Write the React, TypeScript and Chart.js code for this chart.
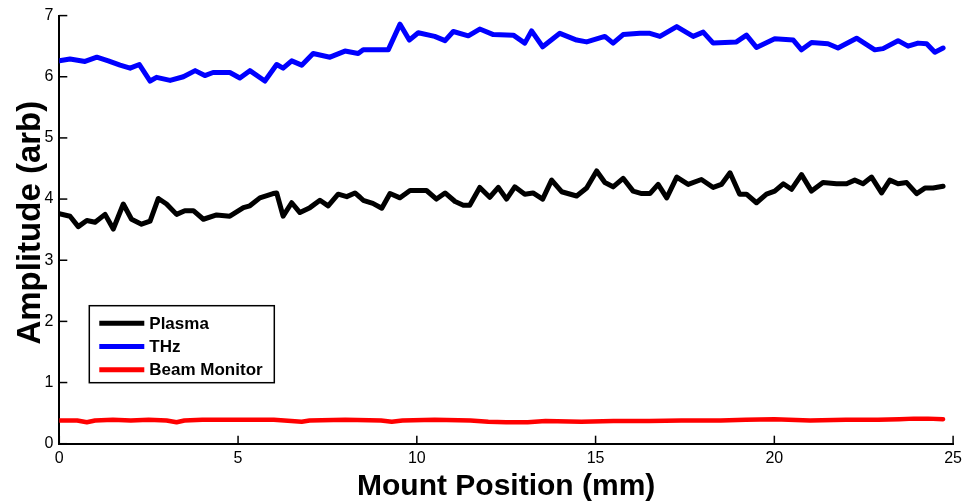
import React, { useEffect, useRef } from "react";
import { Chart, registerables } from "chart.js";

Chart.register(...registerables);

const plasmaX = [0, 0.3, 0.53, 0.77, 1.0, 1.28, 1.51, 1.79, 2.02, 2.3, 2.54, 2.77, 3.0, 3.28, 3.51, 3.75, 4.03, 4.4, 4.77, 5.15, 5.33, 5.61, 5.98, 6.08, 6.26, 6.5, 6.73, 7.01, 7.29, 7.52, 7.8, 8.04, 8.27, 8.41, 8.5, 8.77, 9.02, 9.25, 9.53, 9.81, 10.27, 10.55, 10.79, 11.07, 11.3, 11.48, 11.76, 12.04, 12.28, 12.51, 12.74, 13.02, 13.25, 13.52, 13.77, 14.05, 14.47, 14.75, 15.03, 15.26, 15.49, 15.77, 16.05, 16.29, 16.52, 16.75, 16.99, 17.27, 17.59, 17.96, 18.29, 18.52, 18.76, 19.03, 19.22, 19.5, 19.78, 20.01, 20.25, 20.48, 20.76, 21.04, 21.36, 21.74, 22.02, 22.25, 22.48, 22.72, 23.0, 23.23, 23.46, 23.7, 23.98, 24.21, 24.44, 24.72];
const plasmaY = [3.76, 3.72, 3.55, 3.65, 3.62, 3.75, 3.51, 3.92, 3.67, 3.59, 3.64, 4.01, 3.92, 3.75, 3.81, 3.81, 3.67, 3.74, 3.72, 3.86, 3.89, 4.02, 4.09, 4.1, 3.72, 3.94, 3.78, 3.86, 3.98, 3.89, 4.08, 4.04, 4.1, 4.03, 3.98, 3.93, 3.85, 4.09, 4.02, 4.14, 4.14, 4.0, 4.1, 3.96, 3.9, 3.9, 4.19, 4.03, 4.19, 4.0, 4.2, 4.08, 4.1, 4.0, 4.31, 4.12, 4.05, 4.18, 4.46, 4.27, 4.2, 4.34, 4.13, 4.09, 4.09, 4.24, 4.02, 4.36, 4.24, 4.32, 4.19, 4.24, 4.43, 4.08, 4.08, 3.94, 4.08, 4.13, 4.25, 4.16, 4.4, 4.13, 4.27, 4.25, 4.25, 4.31, 4.25, 4.36, 4.1, 4.31, 4.25, 4.27, 4.09, 4.18, 4.18, 4.21];

const thzX = [0, 0.3, 0.72, 1.05, 1.37, 1.7, 1.98, 2.24, 2.54, 2.72, 3.1, 3.47, 3.8, 4.07, 4.3, 4.77, 5.05, 5.33, 5.75, 6.08, 6.26, 6.5, 6.78, 7.1, 7.57, 7.99, 8.36, 8.5, 9.2, 9.53, 9.79, 10.04, 10.5, 10.79, 11.02, 11.44, 11.76, 12.14, 12.7, 13.02, 13.21, 13.52, 14.0, 14.47, 14.75, 15.26, 15.49, 15.77, 16.24, 16.52, 16.8, 17.27, 17.73, 18.01, 18.29, 18.94, 19.22, 19.5, 20.01, 20.53, 20.76, 21.04, 21.5, 21.78, 22.3, 22.81, 23.04, 23.46, 23.74, 24.02, 24.26, 24.49, 24.72];
const thzY = [6.26, 6.29, 6.25, 6.32, 6.26, 6.19, 6.14, 6.2, 5.93, 5.99, 5.94, 6.0, 6.1, 6.02, 6.07, 6.07, 5.98, 6.1, 5.93, 6.2, 6.14, 6.26, 6.19, 6.38, 6.32, 6.42, 6.38, 6.44, 6.44, 6.86, 6.6, 6.72, 6.66, 6.59, 6.74, 6.67, 6.78, 6.69, 6.68, 6.55, 6.75, 6.49, 6.71, 6.6, 6.57, 6.66, 6.55, 6.69, 6.71, 6.71, 6.66, 6.82, 6.66, 6.73, 6.55, 6.57, 6.68, 6.48, 6.62, 6.6, 6.44, 6.56, 6.54, 6.47, 6.63, 6.44, 6.46, 6.59, 6.5, 6.55, 6.54, 6.4, 6.47];

const beamX = [0, 0.5, 0.77, 1.0, 1.5, 2.0, 2.5, 3.0, 3.28, 3.5, 4.0, 5.0, 6.0, 6.78, 7.0, 8.0, 9.0, 9.3, 9.6, 10.5, 11.5, 12.0, 12.5, 13.1, 13.6, 14.6, 15.5, 16.5, 17.4, 18.5, 19.2, 20.0, 21.0, 22.0, 22.9, 23.5, 23.9, 24.3, 24.72];
const beamY = [0.38, 0.38, 0.35, 0.38, 0.39, 0.38, 0.39, 0.38, 0.35, 0.38, 0.39, 0.39, 0.39, 0.36, 0.38, 0.39, 0.38, 0.36, 0.38, 0.39, 0.38, 0.36, 0.35, 0.35, 0.37, 0.36, 0.37, 0.37, 0.38, 0.38, 0.39, 0.4, 0.38, 0.39, 0.39, 0.4, 0.41, 0.41, 0.4];

const seriesNames = ["Plasma", "THz", "Beam Monitor"];
const seriesColors = ["#000000", "#0000ff", "#ff0000"];
const xTitle = "Mount Position (mm)";
const yTitle = "Amplitude (arb)";

const FONT = "'Liberation Sans', Arial, Helvetica, sans-serif";

const toPoints = (xs: number[], ys: number[]) => xs.map((x, i) => ({ x, y: ys[i] }));

const innerTicks = {
  id: "innerTicks",
  afterDatasetsDraw(chart: any) {
    const ctx = chart.ctx;
    const xs = chart.scales.x;
    const ys = chart.scales.y;
    const len = 8;
    ctx.save();
    ctx.strokeStyle = "#000";
    ctx.lineWidth = 1.5;
    xs.ticks.forEach((t: any) => {
      const px = xs.getPixelForValue(t.value);
      ctx.beginPath();
      ctx.moveTo(px, ys.bottom);
      ctx.lineTo(px, ys.bottom - len);
      ctx.stroke();
    });
    ys.ticks.forEach((t: any) => {
      const py = ys.getPixelForValue(t.value);
      ctx.beginPath();
      ctx.moveTo(xs.left, py);
      ctx.lineTo(xs.left + len, py);
      ctx.stroke();
    });
    ctx.restore();
  },
};

const yAxisTitle = {
  id: "yAxisTitle",
  afterDraw(chart: any) {
    const ctx = chart.ctx;
    const area = chart.chartArea;
    ctx.save();
    ctx.translate(30.5, (area.top + area.bottom) / 2 - 7);
    ctx.rotate(-Math.PI / 2);
    ctx.font = `bold 33px ${FONT}`;
    ctx.fillStyle = "#000";
    ctx.textAlign = "center";
    ctx.textBaseline = "middle";
    ctx.fillText(yTitle, 0, 0);
    ctx.restore();
  },
};

const boxLegend = {
  id: "boxLegend",
  afterDatasetsDraw(chart: any) {
    const ctx = chart.ctx;
    const area = chart.chartArea;
    const left = area.left + 30;
    const top = area.bottom - 138;
    const w = 185;
    const h = 77;
    ctx.save();
    ctx.fillStyle = "#fff";
    ctx.fillRect(left, top, w, h);
    ctx.strokeStyle = "#000";
    ctx.lineWidth = 1.5;
    ctx.strokeRect(left, top, w, h);
    ctx.font = `bold 17px ${FONT}`;
    ctx.textBaseline = "middle";
    ctx.textAlign = "left";
    chart.data.datasets.forEach((ds: any, i: number) => {
      const y = top + 17.5 + i * 23.3;
      ctx.strokeStyle = ds.borderColor;
      ctx.lineWidth = 5;
      ctx.beginPath();
      ctx.moveTo(left + 10, y);
      ctx.lineTo(left + 55, y);
      ctx.stroke();
      ctx.fillStyle = "#000";
      ctx.fillText(ds.label, left + 60, y + 1);
    });
    ctx.restore();
  },
};

export default function App() {
  const ref = useRef<HTMLCanvasElement>(null);
  useEffect(() => {
    document.body.style.margin = "0";
    const canvas = ref.current!;
    const datasets = [
      toPoints(plasmaX, plasmaY),
      toPoints(thzX, thzY),
      toPoints(beamX, beamY),
    ].map((data, i) => ({
      label: seriesNames[i],
      data,
      borderColor: seriesColors[i],
      backgroundColor: seriesColors[i],
      borderWidth: i === 2 ? 4.5 : 5,
      pointRadius: 0,
      tension: 0,
      borderJoinStyle: "round" as const,
      borderCapStyle: "round" as const,
    }));
    const chart = new Chart(canvas, {
      type: "line",
      data: { datasets },
      plugins: [innerTicks, boxLegend, yAxisTitle],
      options: {
        animation: false,
        responsive: false,
        devicePixelRatio: 1,
        layout: { padding: { top: 14, right: 13.7, left: 0, bottom: 0 } },
        plugins: { legend: { display: false }, tooltip: { enabled: false } },
        scales: {
          x: {
            type: "linear",
            min: 0,
            max: 25,
            ticks: { stepSize: 5, color: "#000", font: { family: FONT, size: 16 }, padding: 5, maxRotation: 0 },
            grid: { display: false, drawTicks: false, tickLength: 0 },
            border: { display: true, color: "#000", width: 2 },
            title: {
              display: true,
              text: xTitle,
              color: "#000",
              font: { family: FONT, size: 30, weight: "bold", lineHeight: 1 },
              padding: { top: 0, bottom: 2 },
            },
            afterFit: (s: any) => {
              s.height = 60.3;
            },
          },
          y: {
            type: "linear",
            min: 0,
            max: 7,
            ticks: { stepSize: 1, color: "#000", font: { family: FONT, size: 16 }, padding: 6 },
            grid: { display: false, drawTicks: false, tickLength: 0 },
            border: { display: true, color: "#000", width: 2 },
            title: { display: false },
            afterFit: (s: any) => {
              s.width = 59.3;
            },
          },
        },
      },
    });
    return () => chart.destroy();
  }, []);
  return (
    <div style={{ width: 967, height: 504, background: "#fff" }}>
      <canvas ref={ref} width={967} height={504} style={{ display: "block" }} />
    </div>
  );
}
